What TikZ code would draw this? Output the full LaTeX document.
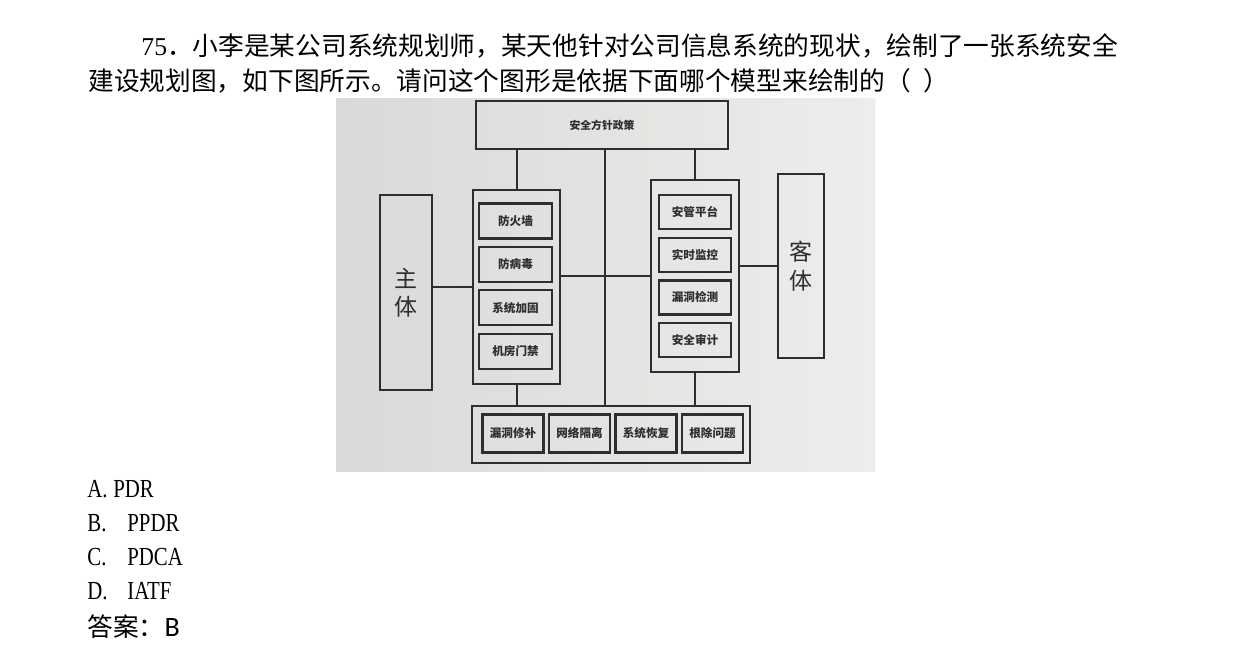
\documentclass[tikz,border=0pt]{standalone}
\usepackage{fontspec}
\setmainfont{Liberation Serif}
\newfontfamily\cjk{Noto Sans CJK SC}
\newfontfamily\optfont[FakeStretch=0.8]{Liberation Serif}
\newfontfamily\ansfont{Carlito}
\usepackage{xcolor}

\definecolor{ink}{HTML}{2E2E2E}
\definecolor{photoL}{HTML}{D9D9D7}
\definecolor{photoR}{HTML}{EDEDEB}

\tikzset{
  box/.style={draw=ink, line width=1.1pt, inner sep=0pt, text=ink},
  item/.style={box, font=\cjk\bfseries\fontsize{5.8}{7}\selectfont},
  link/.style={draw=ink, line width=1pt},
  qtext/.style={anchor=base west, inner sep=0pt, font=\fontsize{12.85}{16}\selectfont},
  opt/.style={anchor=base west, inner sep=0pt, font=\optfont\fontsize{13}{16}\selectfont},
}

\begin{document}
\begin{tikzpicture}[x=0.5pt, y=-0.5pt]
  \useasboundingbox (0,0) rectangle (1251,645);
  \fill[white] (0,0) rectangle (1251,645);

  % question
  \node[qtext] (q1) at (141,55) {75{\cjk ．小李是某公司系统规划师，某天他针对公司信息系统的现状，绘制了一张系统安全}};
  \node[qtext] (q2) at (88,90) {\cjk 建设规划图，如下图所示。请问这个图形是依据下面哪个模型来绘制的（\hspace{6.5pt}）};

  % photo of the plan
  \shade[left color=photoL, right color=photoR] (336,98) rectangle (875,471);
  \node[box, minimum width=126pt, minimum height=24pt, font=\cjk\bfseries\fontsize{5.4}{7}\selectfont] (policy) at (602,125) {安全方针政策};
  \node[box, minimum width=26pt, minimum height=97.5pt, align=center, font=\cjk\fontsize{11.5}{14.2}\selectfont] (zhuti) at (406,292.5) {主\\体};
  \node[box, minimum width=23pt, minimum height=92pt, align=center, font=\cjk\fontsize{11.5}{14.2}\selectfont] (keti) at (801,266) {客\\体};

  \node[box, minimum width=43.5pt, minimum height=97pt] (lgrp) at (516.5,287) {};
  \foreach \t [count=\i] in {防火墙,防病毒,系统加固,机房门禁}
    \node[item, minimum width=36.5pt, minimum height=17.5pt] (l\i) at (515.5,{221+43.4*(\i-1)}) {\t};

  \node[box, minimum width=44pt, minimum height=96pt] (rgrp) at (695,276) {};
  \foreach \t [count=\i] in {安管平台,实时监控,漏洞检测,安全审计}
    \node[item, minimum width=36pt, minimum height=17pt] (r\i) at (695,{212+42.7*(\i-1)}) {\t};

  \node[box, minimum width=139pt, minimum height=28.5pt] (bgrp) at (611,434.5) {};
  \foreach \t [count=\i] in {漏洞修补,网络隔离,系统恢复,根除问题}
    \node[item, minimum width=30.5pt, minimum height=19pt] (b\i) at ({513+66.5*(\i-1)},433.5) {\t};

  % connectors
  \coordinate (hub) at (605,276);
  \draw[link] (policy.south -| lgrp) -- (lgrp.north);
  \draw[link] (policy.south -| rgrp) -- (rgrp.north);
  \draw[link] (policy.south -| hub) -- (bgrp.north -| hub);
  \draw[link] (zhuti.east |- lgrp) -- (lgrp.west);
  \draw[link] (lgrp.east |- hub) -- (rgrp.west |- hub);
  \draw[link] (rgrp.east |- keti) -- (keti.west);
  \draw[link] (lgrp.south) -- (lgrp.south |- bgrp.north);
  \draw[link] (rgrp.south) -- (rgrp.south |- bgrp.north);

  % options
  \node[opt] (optA) at (87,497) {\makebox[13pt][l]{A.}PDR};
  \node[opt] (optB) at (87,531) {\makebox[20pt][l]{B.}PPDR};
  \node[opt] (optC) at (87,565) {\makebox[20pt][l]{C.}PDCA};
  \node[opt] (optD) at (87,599) {\makebox[20pt][l]{D.}IATF};
  \node[qtext] (ans) at (87,636) {{\cjk 答案：}{\ansfont\fontsize{14}{16}\selectfont B}};
\end{tikzpicture}
\end{document}
